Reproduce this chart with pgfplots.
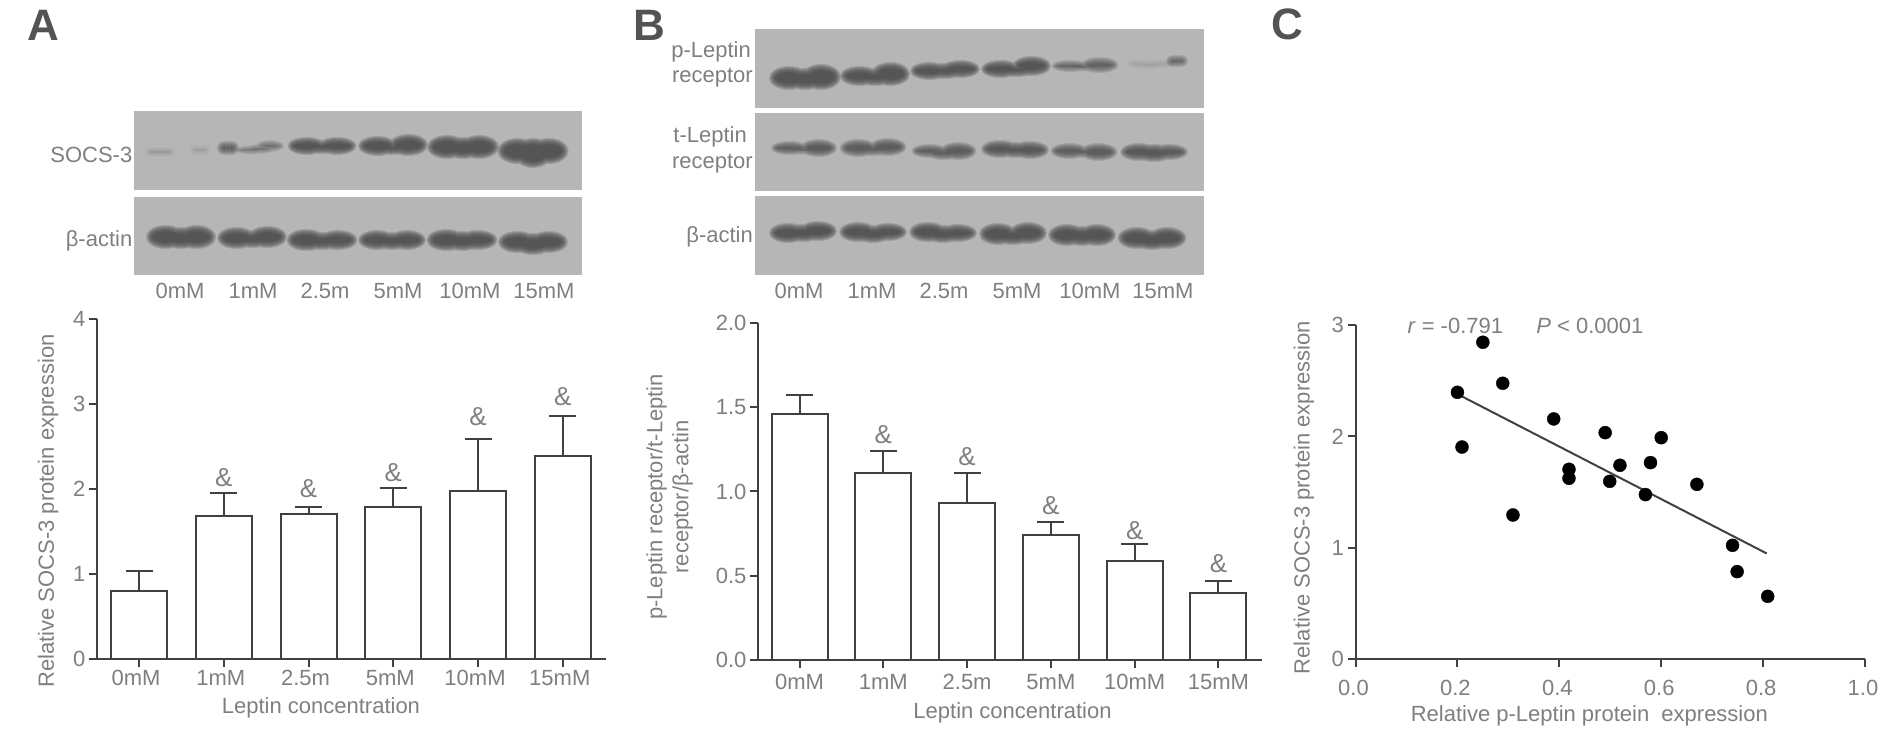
\documentclass[border=0pt]{standalone}
\usepackage{fontspec}
\setmainfont{Liberation Sans}
\usepackage{pgfplots}
\pgfplotsset{compat=1.18}
\definecolor{txt}{HTML}{7F7F7F}
\definecolor{axc}{HTML}{404040}
\definecolor{blot}{HTML}{B6B6B6}
\definecolor{bnd}{HTML}{484848}
\newcommand\band[9]{%
  \foreach \d in {4,3,2,1,0,-1,-2,-3}{%
    \fill[bnd,fill opacity=#9*0.22]
      ({#1-#2/4},#3) ellipse [x radius={#2/4+\d},y radius={max(#6+\d,0.4)}]
      (#1,#4) ellipse [x radius={#2/4+\d},y radius={max(#7+\d,0.4)}]
      ({#1+#2/4},#5) ellipse [x radius={#2/4+\d},y radius={max(#8+\d,0.4)}];
  }}
\newcommand\tfs{\fontsize{22}{26}\selectfont}
\pgfplotsset{
  panel/.style={
    scale only axis, clip=false, ymin=0,
    axis x line*=bottom, axis y line*=left,
    axis line style={axc,line width=2pt},
    tick style={axc,line width=2pt},
    tick align=outside, major tick length=8pt,
    tick label style={font=\tfs,text=txt,/pgf/number format/assume math mode=true},
    label style={font=\tfs,text=txt},
  },
  bars/.style={ybar,bar width=56pt,draw=axc,fill=white,line width=2pt,
    error bars/.cd,y dir=plus,y explicit,
    error bar style={axc,line width=2pt},
    error mark options={rotate=90,axc,line width=2pt,mark size=13.5pt}},
  amp/.style={draw=none,mark=none,nodes near coords={\&},
    every node near coord/.style={anchor=center,font=\fontsize{26}{28}\selectfont,text=txt,inner sep=0pt}},
}
\begin{document}
\begin{tikzpicture}[x=1pt,y=1pt]
\useasboundingbox (0,0) rectangle (1890,735);
\begin{scope}[x=1pt,y=-1pt,yshift=735pt]
% panel letters
\foreach \l/\a/\b in {A/43/25,B/649/25,C/1287/24}
  \node[text=axc!90,font=\fontsize{44}{48}\selectfont\bfseries] at (\a,\b) {\l};
% blots A
\fill[blot] (133.5,111) rectangle (582,190);
\fill[blot] (133.5,197) rectangle (582,275);
\band{160}{22}{152}{152}{152}{1}{1}{1}{.2}
\band{200}{12}{150}{150}{150}{1}{1}{1}{.15}
\band{228}{14}{148}{148}{148}{3}{3}{3}{.8}
\band{260}{40}{150}{149}{146}{0.5}{1}{2}{.55}
\band{322}{61}{146}{147}{146}{5}{3}{5}{1}
\band{393}{62}{146}{148}{145}{6}{3}{7}{1}
\band{463}{64}{147}{148}{147}{8}{7}{8}{1}
\band{533}{63}{151}{153}{151}{9}{11}{9}{1}
\band{181}{62}{237}{238}{237}{8}{7}{8}{1}
\band{252}{62}{238}{239}{237}{7}{5}{7}{1}
\band{322}{63}{240}{241}{240}{7}{5}{6}{1}
\band{392}{60}{240}{241}{240}{6}{5}{6}{1}
\band{462}{63}{240}{241}{240}{7}{6}{6}{1}
\band{533}{62}{242}{244}{242}{7}{7}{7}{1}
\node[anchor=east,text=txt,font=\tfs,inner sep=0pt] at (132.5,155) {SOCS-3};
\node[anchor=east,text=txt,font=\tfs,inner sep=0pt] at (132.5,241) {β-actin};
\foreach \a/\t in {180/0mM,253/1mM,325/2.5m,398/5mM,470/10mM,544/15mM}
  \node[text=txt,font=\tfs,inner sep=0pt] at (\a,291) {\t};
% blots B
\fill[blot] (755,29) rectangle (1204,108);
\fill[blot] (755,113) rectangle (1204,191);
\fill[blot] (755,196) rectangle (1204,275);
\band{805}{64}{78}{79}{77}{8}{7}{9}{1}
\band{875}{62}{76}{77}{74}{6}{5}{8}{1}
\band{945}{62}{71}{71}{69}{5}{4}{5}{1}
\band{1016}{62}{69}{70}{66}{5}{3}{6}{1}
\band{1085}{59}{66}{67}{65}{2}{0.5}{4}{.7}
\band{1177}{14}{61}{61}{61}{2}{2}{2}{.7}
\band{1150}{40}{64}{65}{64}{1}{1}{1}{.1}
\band{804}{58}{148}{150}{148}{3}{0.5}{5}{.8}
\band{873}{59}{148}{149}{147}{5}{3}{5}{.8}
\band{944}{57}{151}{153}{151}{3}{3}{5}{.8}
\band{1015}{60}{149}{150}{150}{5}{4}{5}{.9}
\band{1084}{59}{151}{152}{152}{4}{2}{5}{.8}
\band{1154}{60}{152}{153}{152}{5}{5}{4}{.9}
\band{803}{60}{233}{233}{231}{6}{5}{6}{1}
\band{873}{60}{232}{234}{232}{6}{5}{5}{1}
\band{943}{60}{232}{234}{233}{6}{5}{5}{1}
\band{1013}{60}{234}{236}{233}{7}{5}{7}{1}
\band{1082}{60}{235}{236}{235}{7}{6}{7}{1}
\band{1152}{61}{238}{240}{238}{7}{6}{7}{1}
\node[text=txt,font=\tfs,inner sep=0pt,anchor=east] at (751,52) {p-Leptin};
\node[text=txt,font=\tfs,inner sep=0pt,anchor=east] at (753,78) {receptor};
\node[text=txt,font=\tfs,inner sep=0pt,anchor=east] at (747,137) {t-Leptin};
\node[text=txt,font=\tfs,inner sep=0pt,anchor=east] at (753,164) {receptor};
\node[text=txt,font=\tfs,inner sep=0pt,anchor=east] at (753,237) {β-actin};
\foreach \a/\t in {799/0mM,872/1mM,944/2.5m,1017/5mM,1090/10mM,1163/15mM}
  \node[text=txt,font=\tfs,inner sep=0pt] at (\a,291) {\t};
\end{scope}

% Panel A
\begin{axis}[panel,at={(97pt,76pt)},anchor=south west,width=509pt,height=340pt,
  xmin=-0.496,xmax=5.51,ymax=4,ytick={0,1,2,3,4},
  xtick={0,...,5},xticklabels={0mM,1mM,2.5m,5mM,10mM,15mM},
  xticklabel style={xshift=-3pt},
  ylabel={Relative SOCS-3 protein expression},
  xlabel={Leptin concentration},
  ylabel style={at={(axis description cs:-0.096,0.435)},anchor=center,rotate=0},
  xlabel style={at={(axis description cs:0.44,-0.144)},anchor=center}]
\addplot[bars] coordinates {(0,0.805)+-(0,0.225) (1,1.68)+-(0,0.27) (2,1.70)+-(0,0.09) (3,1.79)+-(0,0.22) (4,1.98)+-(0,0.61) (5,2.39)+-(0,0.47)};
\addplot[amp] coordinates {(1,2.13) (2,2.01) (3,2.19) (4,2.85) (5,3.09)};
\end{axis}

% Panel B
\begin{axis}[panel,at={(758pt,75pt)},anchor=south west,width=504pt,height=337pt,
  xmin=-0.496,xmax=5.52,ymax=2,ytick={0,0.5,1,1.5,2},
  yticklabel style={/pgf/number format/fixed,/pgf/number format/fixed zerofill,/pgf/number format/precision=1},
  xtick={0,...,5},xticklabels={0mM,1mM,2.5m,5mM,10mM,15mM},
  xticklabel style={yshift=-3pt},
  ylabel={p-Leptin receptor/t-Leptin\\receptor/β-actin},
  xlabel={Leptin concentration},
  ylabel style={at={(axis description cs:-0.175,0.484)},anchor=center,align=center},
  xlabel style={at={(axis description cs:0.505,-0.157)},anchor=center}]
\addplot[bars] coordinates {(0,1.46)+-(0,0.11) (1,1.11)+-(0,0.13) (2,0.93)+-(0,0.18) (3,0.74)+-(0,0.08) (4,0.59)+-(0,0.10) (5,0.40)+-(0,0.07)};
\addplot[amp] coordinates {(1,1.336) (2,1.207) (3,0.914) (4,0.765) (5,0.569)};
\end{axis}

% Panel C
\begin{axis}[panel,at={(1355.5pt,75.7pt)},anchor=south west,width=509.5pt,height=334.3pt,
  xmin=0,xmax=1,ymax=3,ytick={0,1,2,3},
  xtick={0,0.2,0.4,0.6,0.8,1},
  xticklabel style={/pgf/number format/fixed,/pgf/number format/fixed zerofill,/pgf/number format/precision=1,yshift=-9pt,xshift=-2pt},
  ylabel={Relative SOCS-3 protein expression},
  xlabel={Relative p-Leptin protein\ \ expression},
  ylabel style={at={(axis description cs:-0.101,0.484)},anchor=center},
  xlabel style={at={(axis description cs:0.459,-0.17)},anchor=center}]
\addplot[only marks,mark=*,mark size=6.5pt,mark options={fill=black,draw=black}] coordinates {
 (0.25,2.845) (0.289,2.477) (0.20,2.396) (0.389,2.157) (0.49,2.034) (0.60,1.989)
 (0.209,1.905) (0.419,1.705) (0.419,1.624) (0.519,1.741) (0.579,1.765) (0.499,1.597)
 (0.67,1.570) (0.569,1.478) (0.309,1.295) (0.74,1.023) (0.749,0.787) (0.809,0.565)};
\addplot[axc,line width=2pt,mark=none] coordinates {(0.2,2.38) (0.807,0.95)};
\node[text=txt,font=\tfs] at (axis cs:0.196,2.995) {\textit{r} = -0.791};
\node[text=txt,font=\tfs] at (axis cs:0.46,2.995) {\textit{P} < 0.0001};
\end{axis}
\end{tikzpicture}
\end{document}
